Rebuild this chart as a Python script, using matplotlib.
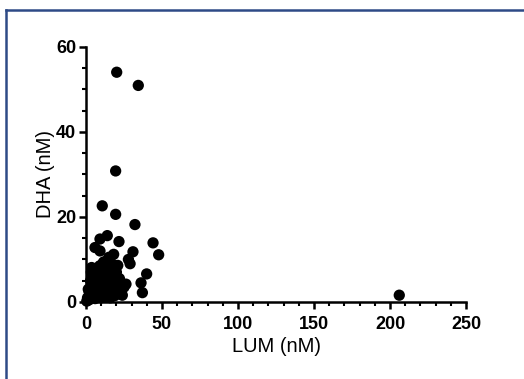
import matplotlib.pyplot as plt
from matplotlib.ticker import MultipleLocator
from matplotlib.lines import Line2D

plt.rcParams["font.family"] = ["Liberation Sans", "DejaVu Sans"]

# LUM vs DHA concentrations (nM)
lum = [20.2, 34.4, 19.5, 10.7, 19.5, 32.2, 14.0, 9.2, 21.7, 44.1, 5.9, 9.2,
       30.9, 47.8, 18.2, 27.9, 29.0, 11.6, 3.7, 20.9, 39.9, 36.2, 37.1, 23.9,
       26.3, 206.1,
       1.0, 2.0, 3.0, 1.5, 4.0, 5.0, 6.0, 7.0, 8.0, 9.0, 10.0, 11.0, 12.0, 13.0,
       14.0, 15.0, 16.0, 17.0, 18.0, 19.0, 20.0, 21.0, 22.0, 24.0, 25.0, 3.0,
       5.0, 7.0, 9.0, 11.0, 13.0, 15.0, 17.0, 6.0, 8.0, 10.0, 12.0, 14.0, 16.0,
       18.0, 4.0, 2.0, 7.0, 10.0, 13.0, 19.0, 21.0, 23.0, 0.5, 15.0, 12.0, 9.0,
       6.0, 11.0, 16.0, 20.0, 3.5, 18.0]
dha = [54.0, 50.9, 30.8, 22.6, 20.6, 18.2, 15.6, 14.8, 14.2, 13.9, 12.8, 12.0,
       11.8, 11.1, 11.2, 10.0, 9.0, 9.4, 8.1, 8.6, 6.6, 4.5, 2.2, 1.6,
       4.2, 1.6,
       1.0, 0.5, 2.0, 3.0, 1.0, 3.5, 2.0, 5.0, 1.5, 4.0, 6.0, 3.0, 7.5, 2.0,
       5.0, 8.0, 3.5, 6.0, 2.5, 4.5, 7.0, 3.0, 5.5, 4.0, 3.5, 5.0,
       6.0, 7.0, 8.5, 9.0, 9.5, 10.5, 9.0, 0.8, 3.0, 1.0, 4.5, 1.5, 6.5,
       8.0, 4.0, 2.5, 3.5, 2.5, 4.0, 1.5, 5.0, 2.0, 0.2, 2.5, 1.2, 6.5,
       4.5, 5.5, 1.0, 5.5, 7.0, 5.0]

W, H, DPI = 524, 379, 100
fig = plt.figure(figsize=(W / DPI, H / DPI), dpi=DPI)
fig.patch.set_facecolor("white")

# navy frame running off the right and bottom edges
frame_kw = dict(color="#2E4A86", linewidth=1.8, transform=fig.transFigure)
fig.add_artist(Line2D([5.5 / W, 5.5 / W], [0, 1 - 10 / H], **frame_kw))
fig.add_artist(Line2D([5.5 / W, 1], [1 - 10 / H, 1 - 10 / H], **frame_kw))

ax = fig.add_axes([86 / W, 1 - 302 / H, 380 / W, 255.3 / H])
ax.scatter(lum, dha, s=66, color="black", edgecolors="none", clip_on=False, zorder=3)

ax.set_xlim(0, 250)
ax.set_ylim(0, 60)
ax.xaxis.set_major_locator(MultipleLocator(50))
ax.xaxis.set_minor_locator(MultipleLocator(10))
ax.yaxis.set_major_locator(MultipleLocator(20))
ax.yaxis.set_minor_locator(MultipleLocator(5))

for side in ("top", "right"):
    ax.spines[side].set_visible(False)
for side in ("left", "bottom"):
    ax.spines[side].set_linewidth(1.8)

ax.tick_params(which="major", direction="out", length=5, width=1.8,
               labelsize=13, pad=2)
ax.tick_params(axis="x", which="major", pad=5)
ax.tick_params(which="minor", direction="out", length=3, width=1.5)
for lab in ax.get_xticklabels() + ax.get_yticklabels():
    lab.set_fontweight("bold")

ax.set_xlabel("LUM (nM)", fontsize=14.5, labelpad=3)
ax.set_ylabel("DHA (nM)", fontsize=14.5, labelpad=1)

fig.savefig("out.png", dpi=DPI, facecolor="white")
